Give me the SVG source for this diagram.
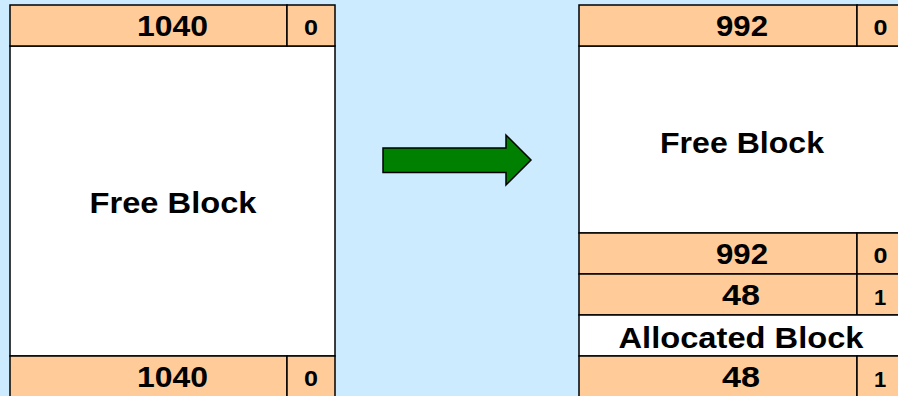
<svg xmlns="http://www.w3.org/2000/svg" width="898" height="396" viewBox="0 0 898 396">
  <style>
    .hdr { fill: #FFCC99; stroke: #000; stroke-width: 1.5; }
    .body { fill: #FFFFFF; stroke: #000; stroke-width: 1.5; }
    .big { font-family: "Liberation Sans", Arial, sans-serif; font-weight: bold; font-size: 29px; text-anchor: middle; fill: #000; }
    .lbl { font-family: "Liberation Sans", Arial, sans-serif; font-weight: bold; font-size: 29px; text-anchor: middle; fill: #000; }
    .bit { font-family: "Liberation Sans", Arial, sans-serif; font-weight: bold; font-size: 22px; text-anchor: middle; fill: #000; }
  </style>
  <rect x="0" y="0" width="898" height="396" fill="#CCEBFF"/>

  <!-- Before: one free block of 1040 bytes -->
  <g id="before">
    <rect class="body" x="10" y="46" width="325" height="310"/>
    <rect class="hdr" x="10" y="5" width="277" height="41"/>
    <rect class="hdr" x="287" y="5" width="48" height="41"/>
    <text class="big" x="172.5" y="36" textLength="71" lengthAdjust="spacingAndGlyphs">1040</text>
    <text class="bit" x="311" y="35" textLength="14" lengthAdjust="spacingAndGlyphs">0</text>
    <text class="lbl" x="173" y="213" textLength="167" lengthAdjust="spacingAndGlyphs">Free Block</text>
    <rect class="hdr" x="10" y="356" width="277" height="45"/>
    <rect class="hdr" x="287" y="356" width="48" height="45"/>
    <text class="big" x="172.5" y="387" textLength="71" lengthAdjust="spacingAndGlyphs">1040</text>
    <text class="bit" x="311" y="386" textLength="14" lengthAdjust="spacingAndGlyphs">0</text>
  </g>

  <!-- Transition arrow -->
  <g id="connectors">
    <polygon points="383,148 506,148 506,135 531,160 506,185 506,172.5 383,172.5" fill="#008000" stroke="#000" stroke-width="1.5"/>
  </g>

  <!-- After: split into free block (992) and allocated block (48) -->
  <g id="after">
    <rect class="body" x="579" y="46" width="330" height="187"/>
    <rect class="hdr" x="579" y="5" width="278" height="41"/>
    <rect class="hdr" x="857" y="5" width="52" height="41"/>
    <text class="big" x="742" y="36" textLength="52" lengthAdjust="spacingAndGlyphs">992</text>
    <text class="bit" x="880.5" y="35" textLength="14" lengthAdjust="spacingAndGlyphs">0</text>
    <text class="lbl" x="742" y="153" textLength="164" lengthAdjust="spacingAndGlyphs">Free Block</text>

    <rect class="hdr" x="579" y="233" width="278" height="41"/>
    <rect class="hdr" x="857" y="233" width="52" height="41"/>
    <text class="big" x="742" y="264" textLength="52" lengthAdjust="spacingAndGlyphs">992</text>
    <text class="bit" x="880.5" y="263" textLength="14" lengthAdjust="spacingAndGlyphs">0</text>

    <rect class="hdr" x="579" y="274" width="278" height="41"/>
    <rect class="hdr" x="857" y="274" width="52" height="41"/>
    <text class="big" x="741" y="305" textLength="38" lengthAdjust="spacingAndGlyphs">48</text>
    <text class="bit" x="880" y="305">1</text>

    <rect class="body" x="579" y="315" width="330" height="41"/>
    <text class="lbl" x="741" y="348" textLength="245" lengthAdjust="spacingAndGlyphs">Allocated Block</text>

    <rect class="hdr" x="579" y="356" width="278" height="45"/>
    <rect class="hdr" x="857" y="356" width="52" height="45"/>
    <text class="big" x="741" y="387" textLength="38" lengthAdjust="spacingAndGlyphs">48</text>
    <text class="bit" x="880" y="387">1</text>
  </g>
</svg>
